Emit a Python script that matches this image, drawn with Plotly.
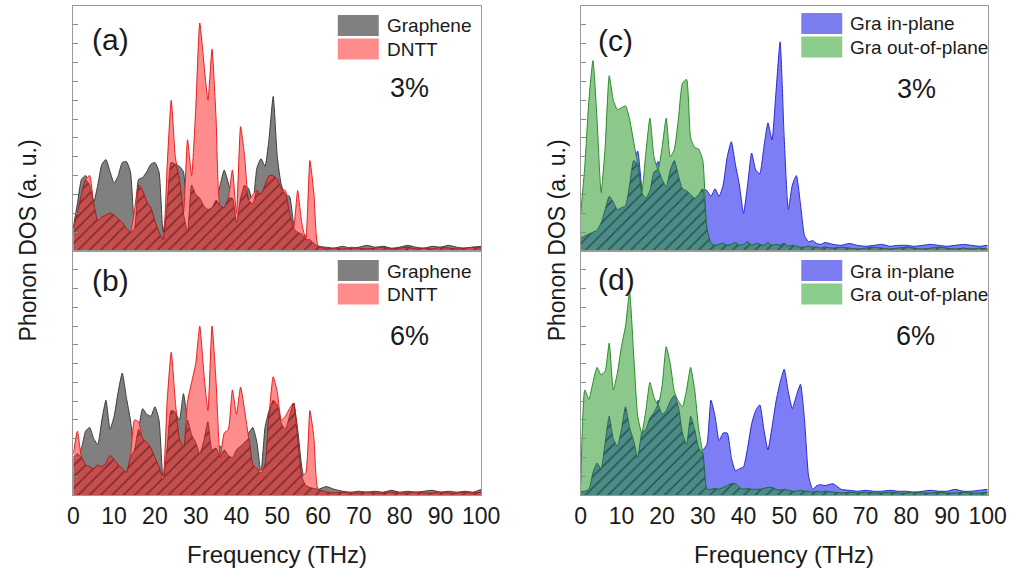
import numpy as np
import plotly.graph_objects as go

W, H = 1033, 574

# ---------------- data ----------------
freq = [0, 1, 2, 3, 4, 5, 6, 7, 8, 9,
        10, 11, 12, 13, 14, 15, 16, 17, 18, 19,
        20, 21, 22, 23, 24, 25, 26, 27, 28, 29,
        30, 31, 32, 33, 34, 35, 36, 37, 38, 39,
        40, 41, 42, 43, 44, 45, 46, 47, 48, 49,
        50, 51, 52, 53, 54, 55, 56, 57, 58, 59,
        60,
        62, 64, 66, 68, 70, 72, 74, 76, 78, 80,
        82, 84, 86, 88, 90, 92, 94, 96, 98, 100]

a_graphene = [1.3, 2.5, 3.8, 4.0, 3.5, 2.6, 3.5, 4.6, 4.85, 4.2,
              3.6, 4.0, 4.7, 4.75, 4.2, 1.2, 3.8, 3.9, 4.2, 4.6,
              4.7, 4.2, 1.0, 2.5, 4.7, 4.6, 4.5, 4.2, 1.0, 3.5,
              3.0, 2.8, 2.4, 2.2, 2.3, 2.7, 3.5, 4.3, 3.6, 2.8,
              1.5, 2.8, 3.5, 3.3, 2.5, 4.4, 4.9, 4.5, 6.0, 8.2,
              5.0, 3.5, 3.0, 2.9, 1.5, 1.0, 0.9, 0.8, 0.6, 0.4,
              0.25,
              0.2, 0.15, 0.25, 0.15, 0.2, 0.3, 0.2, 0.25, 0.15, 0.2,
              0.3, 0.2, 0.15, 0.25, 0.2, 0.3, 0.2, 0.15, 0.2, 0.25]
a_dntt = [1.2, 2.0, 3.0, 3.8, 4.0, 2.5, 1.6, 1.8, 1.9, 2.0,
          1.9, 1.7, 1.5, 1.2, 1.0, 2.2, 3.5, 3.2, 2.6, 2.3,
          1.6, 1.0, 0.6, 4.5, 8.0, 5.0, 3.8, 2.0, 5.9, 4.0,
          7.5, 12.1, 10.0, 8.0, 10.7, 7.0, 2.4, 2.3, 2.8, 4.3,
          2.0, 6.6, 5.0, 2.7, 3.0, 3.2, 3.0, 3.5, 4.0, 4.0,
          3.8, 3.3, 3.2, 2.0, 1.2, 3.2, 1.5, 0.6, 4.8, 3.0,
          0.3,
          0.1, 0.15, 0.1, 0.2, 0.15, 0.1, 0.15, 0.2, 0.1, 0.15,
          0.2, 0.1, 0.15, 0.1, 0.2, 0.15, 0.1, 0.15, 0.2, 0.15]

b_graphene = [2.0, 2.2, 2.5, 3.4, 3.6, 3.0, 2.7, 4.0, 5.05, 3.5,
              4.2, 5.5, 6.5, 5.2, 4.0, 2.4, 3.5, 4.6, 4.3, 4.2,
              4.7, 4.0, 0.8, 2.5, 4.5, 4.4, 4.0, 5.4, 4.0, 3.2,
              2.8, 2.2, 2.9, 3.9, 2.4, 2.5, 2.6, 2.4, 2.1, 2.0,
              2.4, 2.6, 2.8, 3.3, 3.6, 2.8, 1.15, 3.6, 4.5, 5.05,
              4.8, 3.8, 3.5, 4.2, 4.9, 3.5, 1.5, 0.5, 0.4, 0.35,
              0.3,
              0.45, 0.3, 0.2, 0.15, 0.2, 0.15, 0.2, 0.15, 0.25, 0.15,
              0.2, 0.15, 0.2, 0.25, 0.15, 0.2, 0.15, 0.2, 0.15, 0.3]
b_dntt = [2.2, 3.4, 2.0, 1.6, 1.5, 1.4, 1.6, 1.5, 1.7, 2.1,
          1.9, 1.6, 1.4, 1.2, 2.0, 4.0, 3.9, 3.0, 2.8, 2.5,
          2.0, 1.5, 1.0, 5.0, 7.6, 5.0, 3.0, 2.5, 5.0, 6.0,
          7.0, 9.0, 6.5, 4.5, 9.0, 6.0, 2.0, 3.3, 3.5, 5.6,
          4.3, 5.75, 4.5, 3.0, 1.6, 1.4, 1.3, 1.6, 4.3, 6.3,
          5.5, 4.0, 4.2, 4.6, 4.9, 3.0, 1.0, 1.2, 4.5, 3.0,
          0.3,
          0.15, 0.1, 0.15, 0.1, 0.1, 0.15, 0.1, 0.1, 0.15, 0.1,
          0.1, 0.15, 0.1, 0.1, 0.15, 0.1, 0.1, 0.15, 0.1, 0.15]

c_inplane = [0.7, 0.8, 0.9, 1.0, 1.1, 1.5, 2.2, 2.9, 2.6, 2.2,
             2.3, 2.4, 3.5, 4.8, 5.3, 3.4, 2.8, 3.2, 4.2, 4.75,
             3.8, 3.4, 4.3, 4.8, 4.0, 3.3, 3.2, 3.0, 2.8, 3.0,
             3.3, 3.2, 2.9, 3.3, 2.9, 3.5, 5.0, 5.8, 4.6, 3.5,
             2.0, 3.5, 5.2, 4.3, 4.1, 5.5, 6.8, 5.9, 8.5, 11.1,
             6.0, 2.2, 3.5, 4.0, 2.5, 0.8, 0.5, 0.55, 0.4, 0.35,
             0.45,
             0.35, 0.3, 0.4, 0.3, 0.25, 0.3, 0.35, 0.25, 0.3, 0.3,
             0.25, 0.3, 0.35, 0.3, 0.25, 0.3, 0.35, 0.3, 0.25, 0.3]
c_outplane = [2.0, 4.5, 8.0, 10.1, 7.0, 3.1, 5.5, 9.3, 8.0, 7.5,
              7.6, 7.7, 7.0, 5.8, 4.6, 3.1, 5.2, 7.05, 5.0, 4.3,
              5.5, 7.05, 5.0, 5.4, 7.0, 8.9, 9.1, 6.0, 5.5, 5.4,
              4.8, 1.2, 0.4, 0.3, 0.35, 0.4, 0.3, 0.35, 0.45, 0.3,
              0.35, 0.5, 0.3, 0.4, 0.35, 0.3, 0.45, 0.3, 0.35, 0.3,
              0.4, 0.25, 0.3, 0.25, 0.2, 0.2, 0.25, 0.2, 0.2, 0.15,
              0.2,
              0.15, 0.2, 0.15, 0.1, 0.15, 0.2, 0.15, 0.1, 0.15, 0.2,
              0.15, 0.1, 0.15, 0.2, 0.15, 0.1, 0.15, 0.1, 0.15, 0.1]

d_inplane = [0.2, 0.2, 0.3, 1.2, 1.7, 1.4, 2.8, 4.2, 3.0, 2.6,
             3.5, 4.7, 3.6, 2.9, 2.0, 3.3, 3.5, 4.1, 4.4, 5.05,
             4.3, 4.5, 5.0, 5.3, 4.7, 3.3, 2.7, 4.2, 3.5, 2.5,
             2.4, 2.7, 5.05, 4.2, 2.9, 3.3, 3.3, 2.0, 1.3, 1.4,
             1.5, 2.5, 3.8, 4.5, 4.8, 3.5, 2.4, 3.6, 5.0, 6.0,
             6.7, 5.5, 4.6, 5.3, 5.9, 4.0, 1.0, 0.3, 0.5, 0.55,
             0.5,
             0.6, 0.3, 0.25, 0.2, 0.25, 0.2, 0.2, 0.25, 0.2, 0.2,
             0.15, 0.2, 0.25, 0.2, 0.2, 0.3, 0.2, 0.2, 0.25, 0.3]
d_outplane = [0.6, 5.6, 5.1, 6.0, 6.8, 6.4, 6.6, 8.1, 5.6, 6.5,
              7.9, 9.0, 10.8, 7.5, 4.2, 3.3, 4.5, 6.0, 5.2, 4.8,
              5.8, 7.9, 7.0, 5.5, 5.0, 4.7, 5.6, 6.8, 5.6, 3.5,
              2.2, 0.3, 0.3, 0.35, 0.3, 0.4, 0.5, 0.6, 0.6, 0.4,
              0.3, 0.35, 0.3, 0.3, 0.3, 0.35, 0.4, 0.4, 0.3, 0.25,
              0.3, 0.25, 0.2, 0.2, 0.25, 0.2, 0.2, 0.15, 0.2, 0.15,
              0.2,
              0.15, 0.1, 0.15, 0.1, 0.15, 0.1, 0.1, 0.15, 0.1, 0.1,
              0.15, 0.1, 0.1, 0.15, 0.1, 0.1, 0.15, 0.1, 0.1, 0.15]

xtick_vals = [0, 10, 20, 30, 40, 50, 60, 70, 80, 90, 100]
xtick_text = ["0", "10", "20", "30", "40", "50", "60", "70", "80", "90", "100"]

panels = [
    dict(ax="", s1=a_graphene, s2=a_dntt, n1="Graphene", n2="DNTT",
         label="(a)", strain="3%", kind="red"),
    dict(ax="2", s1=b_graphene, s2=b_dntt, n1="Graphene", n2="DNTT",
         label="(b)", strain="6%", kind="red"),
    dict(ax="3", s1=c_inplane, s2=c_outplane, n1="Gra in-plane", n2="Gra out-of-plane",
         label="(c)", strain="3%", kind="blue"),
    dict(ax="4", s1=d_inplane, s2=d_outplane, n1="Gra in-plane", n2="Gra out-of-plane",
         label="(d)", strain="6%", kind="blue"),
]

styles = {
    "red": dict(f1="rgb(128,128,128)", l1="rgb(60,60,60)",
                f2="rgb(255,140,140)", l2="rgb(230,30,30)",
                hb="rgb(200,78,78)", hf="rgb(40,15,15)", hl="rgb(150,30,30)",
                sw1="rgb(128,128,128)", sw2="rgb(255,140,140)"),
    "blue": dict(f1="rgb(125,125,245)", l1="rgb(40,40,210)",
                 f2="rgb(140,200,140)", l2="rgb(40,140,40)",
                 hb="rgb(75,140,135)", hf="rgb(12,30,30)", hl="rgb(30,90,80)",
                 sw1="rgb(125,125,242)", sw2="rgb(140,204,140)"),
}

FONT = "Liberation Sans, Arial, sans-serif"
TXT = "#1a1a1a"

fig = go.Figure()
for p in panels:
    st = styles[p["kind"]]
    xa, ya = "x" + p["ax"], "y" + p["ax"]
    s1 = np.array(p["s1"])
    s2 = np.array(p["s2"])
    common = dict(x=freq, xaxis=xa, yaxis=ya, mode="lines", fill="tozeroy",
                  showlegend=False, hoverinfo="skip")
    fig.add_trace(go.Scatter(y=s1, line=dict(color=st["l1"], width=1, shape="spline", smoothing=0.5),
                             fillcolor=st["f1"], name=p["n1"], **common))
    fig.add_trace(go.Scatter(y=s2, line=dict(color=st["l2"], width=1, shape="spline", smoothing=0.5),
                             fillcolor=st["f2"], name=p["n2"], **common))
    fig.add_trace(go.Scatter(y=np.minimum(s1, s2),
                             line=dict(color=st["hl"], width=0.8, shape="spline", smoothing=0.5),
                             fillcolor=st["hb"],
                             fillpattern=dict(shape="/", bgcolor=st["hb"], fgcolor=st["hf"],
                                              size=8, solidity=0.2),
                             name="overlap", **common))

# ---------------- layout ----------------
def px(x):
    return x / W

def py(y):
    return 1 - y / H

xl = [px(69), px(487)]
xr = [px(589), px(1006)]
yt = [py(251), py(6)]
yb = [py(495), py(251)]

axis_common = dict(showline=True, mirror=True, linecolor="#9a9a9a", linewidth=1,
                   showgrid=False, zeroline=False)
xcommon = dict(range=[0, 100], tickvals=xtick_vals, ticktext=xtick_text, ticks="",
               tickfont=dict(family=FONT, size=23, color=TXT), **axis_common)
ycommon = dict(range=[0, 13], dtick=1, tick0=0, ticks="inside", ticklen=5, tickcolor="#8a8a8a",
               showticklabels=False, **axis_common)

layout = dict(
    width=W, height=H, margin=dict(l=0, r=0, t=0, b=0),
    paper_bgcolor="white", plot_bgcolor="white",
    xaxis=dict(domain=xl, anchor="y", showticklabels=False, **xcommon),
    yaxis=dict(domain=yt, anchor="x", **ycommon),
    xaxis2=dict(domain=xl, anchor="y2", showticklabels=True, **xcommon),
    yaxis2=dict(domain=yb, anchor="x2", **ycommon),
    xaxis3=dict(domain=xr, anchor="y3", showticklabels=False, **xcommon),
    yaxis3=dict(domain=yt, anchor="x3", **ycommon),
    xaxis4=dict(domain=xr, anchor="y4", showticklabels=True, **xcommon),
    yaxis4=dict(domain=yb, anchor="x4", **ycommon),
)
fig.update_layout(**layout)

annotations = []
shapes = []

def text(x, y, s, size, xanchor="center", angle=0):
    annotations.append(dict(x=px(x), y=py(y), xref="paper", yref="paper", text=s,
                            showarrow=False, xanchor=xanchor, yanchor="middle",
                            textangle=angle,
                            font=dict(family=FONT, size=size, color=TXT)))

# axis titles
text(278, 554, "Frequency (THz)", 24)
text(797, 554, "Frequency (THz)", 24)
text(23, 240, "Phonon DOS (a. u.)", 23, angle=-90)
text(565, 240, "Phonon DOS (a. u.)", 23, angle=-90)

# panel labels & strain
label_pos = [(107, 40, 414, 88), (107, 280, 414, 336), (625, 41, 933, 89), (626, 279, 932, 336)]
legend_pos = [(340, 15), (340, 260), (815, 13), (815, 260)]
for p, (lx, ly, sx, sy), (gx, gy) in zip(panels, label_pos, legend_pos):
    st = styles[p["kind"]]
    text(lx, ly, p["label"], 30)
    text(sx, sy, p["strain"], 27)
    for k, (nm, col) in enumerate([(p["n1"], st["sw1"]), (p["n2"], st["sw2"])]):
        y0 = gy + k * 23.5
        shapes.append(dict(type="rect", xref="paper", yref="paper",
                           x0=px(gx), x1=px(gx + 42), y0=py(y0 + 21), y1=py(y0),
                           fillcolor=col, line=dict(width=0)))
        text(gx + 48, y0 + 11, nm, 19, xanchor="left")

fig.update_layout(annotations=annotations, shapes=shapes)
fig.write_html("out.html")
